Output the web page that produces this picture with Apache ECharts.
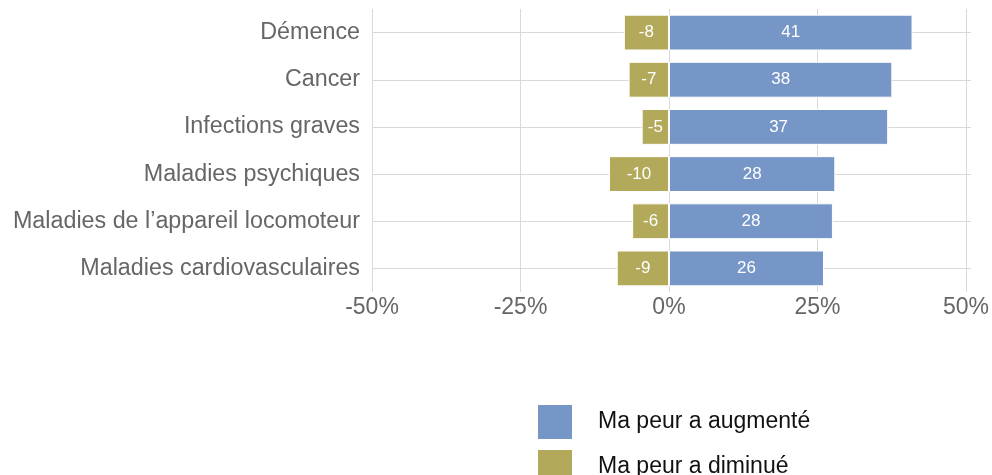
<!DOCTYPE html>
<html>
<head>
<meta charset="utf-8">
<script src="https://cdn.jsdelivr.net/npm/echarts@6/dist/echarts.min.js"></script>
<style>
html,body{margin:0;padding:0;background:#fff;}
#chart{width:992px;height:475px;}
</style>
</head>
<body>
<div id="chart"></div>
<script>
const categories = ["Démence", "Cancer", "Infections graves", "Maladies psychiques", "Maladies de l’appareil locomoteur", "Maladies cardiovasculaires"];
const increased = [41.0, 37.6, 36.9, 28.0, 27.6, 26.1];
const decreased = [-7.6, -6.8, -4.6, -10.1, -6.2, -8.8];
const seriesNames = ["Ma peur a augmenté", "Ma peur a diminué"];
const xTicks = [-50, -25, 0, 25, 50];

const FONT = "Liberation Sans, Arial, Helvetica, sans-serif";
const chart = echarts.init(document.getElementById('chart'), null, {renderer: 'canvas'});
const labelCfg = {
  show: true, position: 'inside', color: '#fff', fontSize: 17, fontFamily: FONT,
  formatter: p => String(Math.round(p.value))
};
chart.setOption({
  animation: false,
  textStyle: {fontFamily: FONT},
  grid: {left: 372, right: 21, top: 9, bottom: 183, containLabel: false},
  xAxis: {
    type: 'value', min: xTicks[0], max: xTicks[xTicks.length - 1], interval: 25,
    axisLine: {show: false}, axisTick: {show: false},
    axisLabel: {formatter: v => v + '%', color: '#666', fontSize: 23, margin: 4, fontFamily: FONT},
    splitLine: {show: true, lineStyle: {color: '#d9d9d9', width: 1}}
  },
  yAxis: {
    type: 'category', data: categories, inverse: true,
    axisLine: {show: false, onZero: false},
    axisTick: {show: true, inside: true, alignWithLabel: true, length: 599, lineStyle: {color: '#d9d9d9'}},
    axisLabel: {color: '#666', fontSize: 23.3, margin: 12, fontFamily: FONT}
  },
  legend: {
    orient: 'vertical', left: 536, top: 403, height: 200, padding: 0,
    itemWidth: 36, itemHeight: 36, itemGap: 7,
    icon: 'rect', data: seriesNames,
    textStyle: {color: '#111', fontSize: 23, fontFamily: FONT, padding: [0, 0, 0, 20]}
  },
  series: [
    {name: seriesNames[0], type: 'bar', stack: 'a', data: increased, barWidth: '76%',
     itemStyle: {color: '#7796c8', borderColor: '#fff', borderWidth: 1}, label: labelCfg},
    {name: seriesNames[1], type: 'bar', stack: 'a', data: decreased, barWidth: '76%',
     itemStyle: {color: '#b3a95a', borderColor: '#fff', borderWidth: 1}, label: labelCfg}
  ]
});
</script>
</body>
</html>
